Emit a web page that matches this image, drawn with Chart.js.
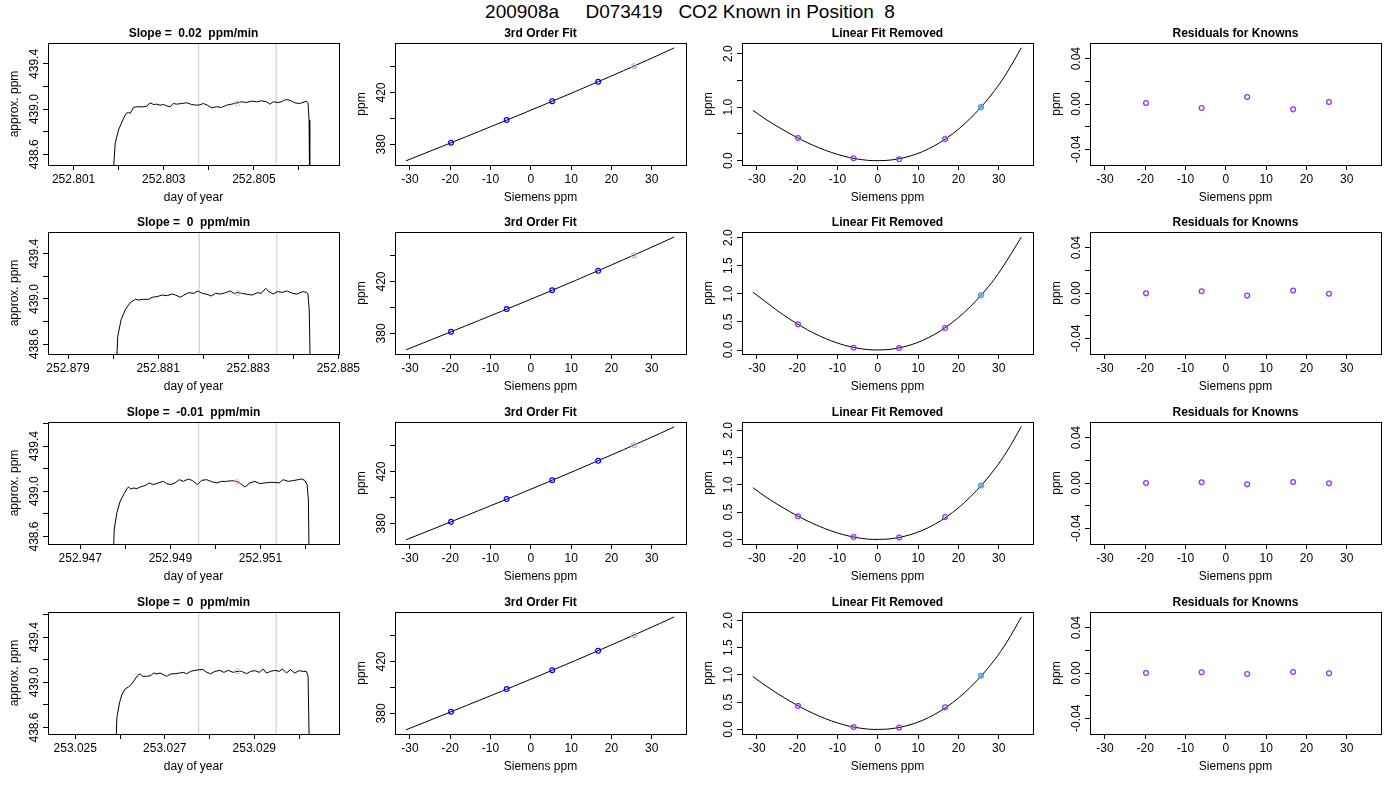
<!DOCTYPE html>
<html>
<head>
<meta charset="utf-8">
<script src="https://cdn.jsdelivr.net/npm/chart.js@4.4.0/dist/chart.umd.min.js"></script>
<style>
html, body { margin: 0; padding: 0; background: #fff; }
#wrap { position: relative; width: 1400px; height: 800px; overflow: hidden; background: #fff; }
#mainTitle { position: absolute; left: 0; top: 0; width: 1380px; text-align: center; white-space: pre;
  font: 19px "Liberation Sans", Arial, Helvetica, sans-serif; line-height: 24px; color: #000; }
canvas { position: absolute; }
</style>
</head>
<body>
<div id="wrap"><div id="mainTitle"></div></div>
<script>
// ---------------- DATA ----------------
const mainTitle = '200908a     D073419   CO2 Known in Position  8';
const slopeTitles = ['Slope =  0.02  ppm/min', 'Slope =  0  ppm/min', 'Slope =  -0.01  ppm/min', 'Slope =  0  ppm/min'];
const fitTitle = '3rd Order Fit';
const linTitle = 'Linear Fit Removed';
const resTitle = 'Residuals for Knowns';

// Column 1: raw traces (day of year, approx. ppm)
const trace1Time = [252.80184, 252.801923, 252.801996, 252.802107, 252.802166, 252.802218, 252.802255, 252.802328, 252.802402, 252.80255, 252.802624, 252.802697, 252.802771, 252.802845, 252.802919, 252.802993, 252.803066, 252.80314, 252.803214, 252.803288, 252.803399, 252.803509, 252.80362, 252.803731, 252.803804, 252.803878, 252.803967, 252.804063, 252.804173, 252.804284, 252.804395, 252.804506, 252.804631, 252.804727, 252.804838, 252.804948, 252.805059, 252.80517, 252.80528, 252.805354, 252.805428, 252.805539, 252.805613, 252.805708, 252.805797, 252.805908, 252.806018, 252.806129, 252.806166, 252.806203, 252.806225, 252.80624];
const trace1Ppm = [438.2, 438.697, 438.815, 438.918, 438.962, 438.971, 438.962, 439.015, 439.021, 439.021, 439.026, 439.056, 439.041, 439.044, 439.035, 439.041, 439.029, 439.021, 439.05, 439.044, 439.05, 439.056, 439.041, 439.035, 439.038, 439.05, 439.035, 439.012, 439.021, 439.015, 439.035, 439.044, 439.056, 439.065, 439.059, 439.071, 439.065, 439.074, 439.065, 439.044, 439.065, 439.059, 439.065, 439.085, 439.079, 439.056, 439.05, 439.065, 439.071, 439.05, 438.903, 438.2];

const trace2Time = [252.880052, 252.880104, 252.880178, 252.880274, 252.880385, 252.880496, 252.88057, 252.880681, 252.880793, 252.880867, 252.880978, 252.881089, 252.8812, 252.881311, 252.881385, 252.881496, 252.88157, 252.881681, 252.881792, 252.881881, 252.881978, 252.882089, 252.882178, 252.882274, 252.882385, 252.882496, 252.882607, 252.882681, 252.88277, 252.882866, 252.882978, 252.883089, 252.8832, 252.883289, 252.883385, 252.883459, 252.883555, 252.883644, 252.883755, 252.883866, 252.883977, 252.884089, 252.8842, 252.884296, 252.884326, 252.884355, 252.884385];
const trace2Ppm = [438.2, 438.668, 438.815, 438.909, 438.968, 438.997, 438.991, 438.997, 438.997, 439.015, 439.021, 439.035, 439.029, 439.044, 439.035, 439.015, 439.035, 439.056, 439.05, 439.071, 439.05, 439.041, 439.026, 439.05, 439.044, 439.056, 439.071, 439.05, 439.056, 439.05, 439.041, 439.035, 439.056, 439.05, 439.094, 439.065, 439.044, 439.065, 439.059, 439.071, 439.05, 439.044, 439.065, 439.059, 439.044, 438.903, 438.2];

const trace3Time = [252.947716, 252.947753, 252.947812, 252.947886, 252.947974, 252.948033, 252.94807, 252.948122, 252.948181, 252.948255, 252.948328, 252.948439, 252.948528, 252.948624, 252.948734, 252.948845, 252.948919, 252.949007, 252.949103, 252.949199, 252.949288, 252.949399, 252.949494, 252.949598, 252.949694, 252.949804, 252.949915, 252.950026, 252.950137, 252.950247, 252.950358, 252.950469, 252.950557, 252.950653, 252.950764, 252.950875, 252.950985, 252.951096, 252.951207, 252.951317, 252.951413, 252.951502, 252.951613, 252.951723, 252.951834, 252.951908, 252.951982, 252.952033, 252.952063, 252.952085];
const trace3Ppm = [438.2, 438.662, 438.809, 438.912, 438.979, 439.021, 439.038, 439.021, 439.029, 439.024, 439.038, 439.05, 439.074, 439.059, 439.074, 439.088, 439.068, 439.059, 439.074, 439.103, 439.088, 439.109, 439.094, 439.059, 439.097, 439.103, 439.085, 439.074, 439.088, 439.088, 439.094, 439.088, 439.068, 439.038, 439.074, 439.088, 439.068, 439.074, 439.079, 439.079, 439.074, 439.103, 439.088, 439.094, 439.103, 439.109, 439.097, 439.059, 438.926, 438.2];

const trace4Time = [253.025892, 253.025929, 253.025988, 253.02604, 253.026115, 253.026189, 253.026263, 253.026337, 253.026412, 253.026449, 253.026508, 253.026597, 253.026687, 253.026746, 253.02682, 253.026895, 253.026969, 253.027043, 253.027132, 253.027229, 253.027326, 253.027415, 253.027489, 253.027578, 253.027675, 253.027786, 253.027861, 253.027935, 253.028024, 253.028121, 253.028232, 253.028321, 253.028418, 253.028529, 253.028618, 253.028715, 253.028826, 253.028916, 253.029012, 253.029109, 253.029198, 253.029272, 253.029361, 253.029458, 253.029555, 253.029629, 253.029718, 253.029807, 253.029904, 253.03, 253.03009, 253.030164, 253.030201, 253.030238];
const trace4Ppm = [438.2, 438.685, 438.818, 438.891, 438.941, 438.959, 438.985, 439.029, 439.068, 439.074, 439.053, 439.053, 439.059, 439.082, 439.074, 439.082, 439.068, 439.053, 439.074, 439.076, 439.082, 439.088, 439.076, 439.097, 439.106, 439.112, 439.112, 439.088, 439.076, 439.097, 439.106, 439.088, 439.106, 439.088, 439.097, 439.097, 439.076, 439.097, 439.103, 439.088, 439.118, 439.082, 439.097, 439.106, 439.097, 439.118, 439.082, 439.112, 439.082, 439.103, 439.097, 439.097, 439.053, 438.2];

const windowStart = [252.803775, 252.881911, 252.949627, 253.027757];
const windowEnd = [252.805494, 252.883637, 252.951347, 253.029488];
const meanTime = [252.804631, 252.88277, 252.950483, 253.028618];
const meanPpm = [439.05, 439.05, 439.082, 439.097];

const timeAxisMin = [252.800432, 252.878556, 252.946284, 253.024391];
const timeAxisMax = [252.806889, 252.885015, 252.952742, 253.030892];
const ppmAxisMin = [438.5055, 438.513, 438.5335, 438.5425];
const ppmAxisMax = [439.5855, 439.593, 439.6135, 439.6225];

const timeTicks = [
  [252.801, 252.802, 252.803, 252.804, 252.805, 252.806],
  [252.879, 252.880, 252.881, 252.882, 252.883, 252.884, 252.885],
  [252.947, 252.948, 252.949, 252.950, 252.951, 252.952],
  [253.025, 253.026, 253.027, 253.028, 253.029, 253.030]
];
const timeTickLabels = [
  ['252.801', '', '252.803', '', '252.805', ''],
  ['252.879', '', '252.881', '', '252.883', '', '252.885'],
  ['252.947', '', '252.949', '', '252.951', ''],
  ['253.025', '', '253.027', '', '253.029', '']
];
const ppmTicks = [438.6, 438.8, 439.0, 439.2, 439.4, 439.6];
const ppmTickLabels = ['438.6', '', '439.0', '', '439.4', ''];

// Columns 2-4: calibration
const knownSiemens = [-19.8, -6.0, 5.3, 16.7, 25.6];
const knownPpm = [381.3, 398.7, 413.3, 428.2, 440.3];
const fitSiemens = [-31, -28, -25, -22, -19, -16, -13, -10, -7, -4, -1, 2, 5, 8, 11, 14, 17, 20, 23, 26, 29, 32, 35.6];
const fitPpm = [367.30, 371.01, 374.74, 378.48, 382.23, 386.00, 389.77, 393.57, 397.38, 401.21, 405.06, 408.94, 412.83, 416.76, 420.71, 424.69, 428.70, 432.74, 436.81, 440.92, 445.07, 449.27, 454.38];

const linRemovedCurve = [
  [0.94, 0.783, 0.642, 0.512, 0.392, 0.286, 0.194, 0.118, 0.059, 0.020, 0.001, 0.005, 0.033, 0.087, 0.167, 0.277, 0.417, 0.588, 0.794, 1.034, 1.311, 1.64, 2.108],
  [1.03, 0.868, 0.705, 0.556, 0.423, 0.305, 0.205, 0.123, 0.062, 0.020, 0.001, 0.005, 0.034, 0.087, 0.167, 0.275, 0.412, 0.579, 0.776, 1.006, 1.270, 1.59, 2.01],
  [0.95, 0.79, 0.648, 0.517, 0.396, 0.289, 0.196, 0.119, 0.06, 0.02, 0.001, 0.005, 0.033, 0.086, 0.165, 0.274, 0.412, 0.58, 0.783, 1.018, 1.29, 1.61, 2.07],
  [0.97, 0.81, 0.662, 0.527, 0.403, 0.293, 0.198, 0.12, 0.06, 0.02, 0.001, 0.005, 0.033, 0.086, 0.164, 0.272, 0.409, 0.576, 0.777, 1.01, 1.28, 1.6, 2.06]
];
const linRemovedKnown = [
  [0.423, 0.045, 0.026, 0.404, 1.0],
  [0.457, 0.041, 0.036, 0.392, 0.974],
  [0.425, 0.046, 0.034, 0.41, 0.99],
  [0.432, 0.046, 0.034, 0.405, 0.985]
];
const residuals = [
  [0.0009, -0.0035, 0.0062, -0.0047, 0.0018],
  [-0.0003, 0.0015, -0.0023, 0.0021, -0.0006],
  [0.0, 0.0006, -0.0012, 0.0009, -0.0003],
  [0.0, 0.0006, -0.0009, 0.0009, -0.0003]
];

const siemensMin = -33.7, siemensMax = 38.5;
const siemensTicks = [-30, -20, -10, 0, 10, 20, 30];
const siemensTickLabels = ['-30', '-20', '-10', '0', '10', '20', '30'];
const fitPpmMin = 364.1, fitPpmMax = 458.15;
const fitPpmTicks = [380, 400, 420, 440];
const fitPpmTickLabels = ['380', '', '420', ''];
const linAxisMin = [-0.08, -0.071, -0.083, -0.083];
const linAxisMax = [2.197, 2.101, 2.153, 2.153];
const linTicks = [0, 0.5, 1.0, 1.5, 2.0];
const linTickLabels = [
  ['0.0', '', '1.0', '', '2.0'],
  ['0.0', '0.5', '1.0', '1.5', '2.0'],
  ['0.0', '0.5', '1.0', '1.5', '2.0'],
  ['0.0', '0.5', '1.0', '1.5', '2.0']
];
const resMin = -0.0538, resMax = 0.0538;
const resTicks = [-0.04, -0.02, 0, 0.02, 0.04];
const resTickLabels = ['-0.04', '', '0.00', '', '0.04'];

const traceTimes = [trace1Time, trace2Time, trace3Time, trace4Time];
const tracePpms = [trace1Ppm, trace2Ppm, trace3Ppm, trace4Ppm];

// ---------------- STYLE / LAYOUT ----------------
const FONT = '"Liberation Sans", Arial, Helvetica, sans-serif';
Chart.defaults.font.family = FONT;
Chart.defaults.font.size = 12;
Chart.defaults.color = '#000';

const boxLeft = [48, 395, 742, 1090];
const boxTop = [43, 232, 422, 612];
const BOX_W = 291, BOX_H = 122;
const PAD_L = 48, PAD_T = 43, PAD_R = 30, PAD_B = 45;
const Y_AXIS_W = 41, X_AXIS_H = 40;

const knownBlue = ['#0000ff', '#0000ff', '#0000ff', '#0000ff', '#cfa0e6'];
const linColors = ['#9933ff', '#9933ff', '#9933ff', '#9933ff', '#3fa0f0'];
const linFill = ['rgba(0,0,0,0)', 'rgba(0,0,0,0)', 'rgba(0,0,0,0)', 'rgba(0,0,0,0)', 'rgba(100,180,250,0.6)'];
const resColors = ['#9933ff', '#9933ff', '#9933ff', '#9933ff', '#9933ff'];

document.getElementById('mainTitle').textContent = mainTitle;

const rPlugin = {
  id: 'rstyle',
  afterDraw(chart, args, opts) {
    const ctx = chart.ctx, a = chart.chartArea;
    ctx.save();
    ctx.strokeStyle = '#000';
    ctx.lineWidth = 1;
    const l = Math.round(a.left), t = Math.round(a.top), r = Math.round(a.right), b = Math.round(a.bottom);
    ctx.strokeRect(l + 0.5, t + 0.5, r - l, b - t);
    const ys = chart.scales.y;
    ctx.fillStyle = '#000';
    ctx.font = '12px ' + FONT;
    ctx.textAlign = 'center';
    ctx.textBaseline = 'alphabetic';
    opts.yTicks.forEach((v, i) => {
      const lab = opts.yLabels[i];
      if (!lab || v < ys.min || v > ys.max) return;
      const y = ys.getPixelForValue(v);
      ctx.save();
      ctx.translate(a.left - 10, y);
      ctx.rotate(-Math.PI / 2);
      ctx.fillText(lab, 0, 0);
      ctx.restore();
    });
    ctx.font = 'bold 12px ' + FONT;
    ctx.textBaseline = 'middle';
    ctx.fillText(opts.title, (a.left + a.right) / 2, a.top - 9.5);
    ctx.restore();
  }
};

function linAxis(o) {
  const isY = o.vertical;
  return {
    type: 'linear',
    position: isY ? 'left' : 'bottom',
    min: o.min, max: o.max,
    afterBuildTicks: (s) => {
      s.ticks = o.ticks.filter(v => v >= o.min && v <= o.max).map(v => ({ value: v }));
    },
    afterFit: (s) => {
      if (isY) s.width = Y_AXIS_W; else s.height = X_AXIS_H;
      s.paddingLeft = 0; s.paddingRight = 0; s.paddingTop = 0; s.paddingBottom = 0;
    },
    ticks: {
      display: !isY, autoSkip: false, maxRotation: 0, minRotation: 0,
      includeBounds: false, padding: 2, color: '#000',
      font: { family: FONT, size: 12 },
      callback: (v) => {
        const i = o.ticks.findIndex(t => Math.abs(t - v) < 1e-7);
        return i >= 0 ? o.labels[i] : '';
      }
    },
    grid: { display: true, drawOnChartArea: false, drawTicks: true, tickLength: 5, color: '#000', lineWidth: 1 },
    border: { display: false },
    title: { display: true, text: o.title, color: '#000', font: { family: FONT, size: 12, lineHeight: 1.2 }, padding: 0 }
  };
}

function makePanel(col, row, datasets, xa, ya, title) {
  const c = document.createElement('canvas');
  const w = BOX_W + PAD_L + PAD_R, h = BOX_H + PAD_T + PAD_B;
  c.width = w; c.height = h;
  c.style.width = w + 'px'; c.style.height = h + 'px';
  c.style.left = (boxLeft[col] - PAD_L) + 'px';
  c.style.top = (boxTop[row] - PAD_T) + 'px';
  document.getElementById('wrap').appendChild(c);
  new Chart(c.getContext('2d'), {
    type: 'scatter',
    data: { datasets },
    options: {
      responsive: false, animation: false, devicePixelRatio: 1, events: [],
      layout: { padding: { left: PAD_L - Y_AXIS_W, top: PAD_T, right: PAD_R, bottom: PAD_B - X_AXIS_H } },
      scales: { x: linAxis(xa), y: linAxis(ya) },
      plugins: { legend: { display: false }, tooltip: { enabled: false },
        rstyle: { title, yTicks: ya.ticks, yLabels: ya.labels } }
    },
    plugins: [rPlugin]
  });
}

function pts(xs, ys) { return xs.map((x, i) => ({ x, y: ys[i] })); }

for (let r = 0; r < 4; r++) {
  // Column 1
  makePanel(0, r, [
    { data: [{ x: meanTime[r], y: meanPpm[r] }], showLine: false, pointRadius: 2.5, pointBorderWidth: 1,
      pointBorderColor: '#ffa8b8', pointBackgroundColor: 'rgba(0,0,0,0)', order: 0 },
    { data: pts(traceTimes[r], tracePpms[r]), showLine: true, borderColor: '#000', borderWidth: 1, pointRadius: 0, tension: 0, order: 1 },
    { data: [{ x: windowStart[r], y: ppmAxisMin[r] }, { x: windowStart[r], y: ppmAxisMax[r] }], showLine: true, borderColor: '#c8c8c8', borderWidth: 1, pointRadius: 0, order: 3 },
    { data: [{ x: windowEnd[r], y: ppmAxisMin[r] }, { x: windowEnd[r], y: ppmAxisMax[r] }], showLine: true, borderColor: '#c8c8c8', borderWidth: 1, pointRadius: 0, order: 3 }
  ],
  { min: timeAxisMin[r], max: timeAxisMax[r], ticks: timeTicks[r], labels: timeTickLabels[r], title: 'day of year', vertical: false },
  { min: ppmAxisMin[r], max: ppmAxisMax[r], ticks: ppmTicks, labels: ppmTickLabels, title: 'approx. ppm', vertical: true },
  slopeTitles[r]);

  // Column 2
  makePanel(1, r, [
    { data: pts(knownSiemens, knownPpm), showLine: false, pointRadius: 2.4, pointBorderWidth: 1.2,
      pointBorderColor: knownBlue, pointBackgroundColor: 'rgba(0,0,0,0)', order: 0 },
    { data: pts(fitSiemens, fitPpm), showLine: true, borderColor: '#000', borderWidth: 1, pointRadius: 0, cubicInterpolationMode: 'monotone', order: 1 }
  ],
  { min: siemensMin, max: siemensMax, ticks: siemensTicks, labels: siemensTickLabels, title: 'Siemens ppm', vertical: false },
  { min: fitPpmMin, max: fitPpmMax, ticks: fitPpmTicks, labels: fitPpmTickLabels, title: 'ppm', vertical: true },
  fitTitle);

  // Column 3
  makePanel(2, r, [
    { data: pts(knownSiemens, linRemovedKnown[r]), showLine: false, pointRadius: 2.4, pointBorderWidth: 1.3,
      pointBorderColor: linColors, pointBackgroundColor: linFill, order: 0 },
    { data: pts(fitSiemens, linRemovedCurve[r]), showLine: true, borderColor: '#000', borderWidth: 1, pointRadius: 0, cubicInterpolationMode: 'monotone', order: 1 }
  ],
  { min: siemensMin, max: siemensMax, ticks: siemensTicks, labels: siemensTickLabels, title: 'Siemens ppm', vertical: false },
  { min: linAxisMin[r], max: linAxisMax[r], ticks: linTicks, labels: linTickLabels[r], title: 'ppm', vertical: true },
  linTitle);

  // Column 4
  makePanel(3, r, [
    { data: pts(knownSiemens, residuals[r]), showLine: false, pointRadius: 2.4, pointBorderWidth: 1.3,
      pointBorderColor: resColors, pointBackgroundColor: 'rgba(0,0,0,0)', order: 0 }
  ],
  { min: siemensMin, max: siemensMax, ticks: siemensTicks, labels: siemensTickLabels, title: 'Siemens ppm', vertical: false },
  { min: resMin, max: resMax, ticks: resTicks, labels: resTickLabels, title: 'ppm', vertical: true },
  resTitle);
}
</script>
</body>
</html>
